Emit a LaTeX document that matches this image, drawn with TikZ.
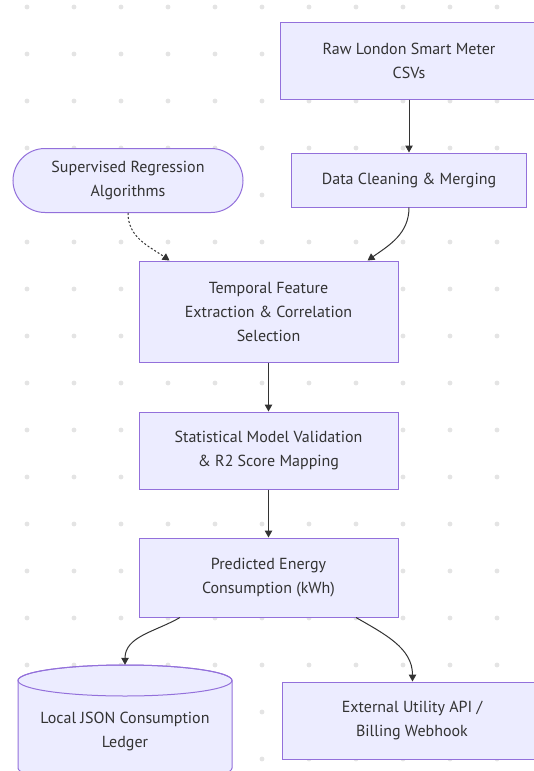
\documentclass[tikz,border=0pt]{standalone}
\usepackage{fontspec}
\setmainfont{PT Sans}
\usetikzlibrary{arrows.meta}
\definecolor{nodefill}{HTML}{ECECFF}
\definecolor{nodeline}{HTML}{9370DB}
\definecolor{ink}{HTML}{333333}
\definecolor{griddot}{HTML}{E4E4E4}

\begin{document}
\begin{tikzpicture}[x=1pt,y=1pt,
    procbox/.style={draw=nodeline,fill=nodefill,line width=1pt,align=center,inner sep=0pt,
      text=ink,font=\fontsize{16}{24}\selectfont},
    termbox/.style={procbox,rounded corners=32pt},
    txt/.style={align=center,inner sep=0pt,text=ink,font=\fontsize{16}{24}\selectfont},
    arr/.style={draw=ink,line width=1pt,-{Triangle[length=7pt,width=7.5pt]}},
    dotarr/.style={arr,dash pattern=on 2pt off 2pt}]
\useasboundingbox (0,0) rectangle (534,-771);
\fill[white] (0,0) rectangle (534,-771);
\foreach \i in {0,...,10}
  \foreach \j in {0,...,16}
    \fill[griddot] (27+47*\i,-7-47*\j) circle (2.4);
\node[procbox,minimum width=258pt,minimum height=77pt] (raw) at (409,-60.5) {Raw London Smart Meter\\CSVs};
\node[procbox,minimum width=235pt,minimum height=54pt] (clean) at (409,-180) {Data Cleaning \& Merging};
\node[termbox,minimum width=230pt,minimum height=64pt] (algos) at (128,-180.5) {Supervised Regression\\Algorithms};
\node[procbox,minimum width=259pt,minimum height=101pt] (feat) at (268.5,-311.5) {Temporal Feature\\Extraction \& Correlation\\Selection};
\node[procbox,minimum width=259pt,minimum height=77pt] (valid) at (268.5,-450.5) {Statistical Model Validation\\\& R2 Score Mapping};
\node[procbox,minimum width=259pt,minimum height=79pt] (pred) at (268.5,-577.5) {Predicted Energy\\Consumption (kWh)};
\node[procbox,minimum width=260pt,minimum height=77pt] (ext) at (412,-720.5) {External Utility API /\\Billing Webhook};
% cylinder store
\filldraw[fill=nodefill,draw=nodeline,line width=1pt] (18,-680.5) -- (18,-768)
  arc[start angle=180,end angle=360,x radius=107,y radius=15.5] -- (232,-680.5)
  arc[start angle=0,end angle=180,x radius=107,y radius=15.5] -- cycle;
\draw[draw=nodeline,line width=1pt] (125,-680.5) ellipse[x radius=107,y radius=15.5];
\node[txt,minimum height=133pt] (ledger) at (125,-731.5) {Local JSON Consumption\\Ledger};

\draw[arr] (raw) -- (clean);
\draw[dotarr] (algos.south) to[out=-90,in=145] ([xshift=31pt]feat.north west);
\draw[arr] (clean.south) to[out=-90,in=35] ([xshift=-31pt]feat.north east);
\draw[arr] (feat) -- (valid);
\draw[arr] (valid) -- (pred);
\draw[arr] ([xshift=-88.5pt]pred.south) to[out=-150,in=90] (ledger.north);
\draw[arr] ([xshift=87.5pt]pred.south) to[out=-30,in=90] ([xshift=-130pt]ext.north east);
\end{tikzpicture}
\end{document}
